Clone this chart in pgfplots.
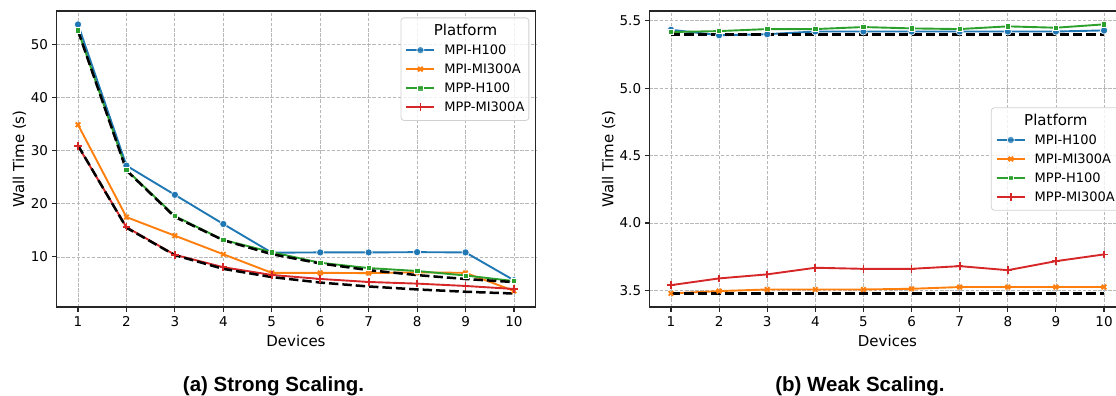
\documentclass[border=0pt]{standalone}
\usepackage{pgfplots}
\pgfplotsset{compat=1.18}
\usepackage{fontspec}
\setmainfont{DejaVu Sans}
\newfontfamily\capfont{Liberation Sans}
\definecolor{c1}{RGB}{31,119,180}
\definecolor{c2}{RGB}{255,127,14}
\definecolor{c3}{RGB}{44,160,44}
\definecolor{c4}{RGB}{214,39,40}
\pgfplotsset{
  myax/.style={
    scale only axis, height=296pt,
    xmin=0.55, xmax=10.45, xtick={1,2,3,4,5,6,7,8,9,10},
    grid=major,
    major grid style={dash pattern=on 3.5pt off 1.6pt, line width=0.8pt, color=black!28},
    axis line style={line width=1.1pt, black!85},
    tick align=outside, tick pos=left, major tick length=4.5pt,
    every tick/.style={black!85, line width=1.1pt},
    /pgf/number format/assume math mode=true,
    tick label style={font=\fontsize{13.5}{16}\selectfont, inner sep=0pt},
    xticklabel style={anchor=north, text height=9.8pt, yshift=-5.2pt},
    yticklabel style={anchor=east, xshift=-3.5pt},
    xlabel={Devices}, ylabel={Wall Time (s)},
    every axis x label/.style={at={(axis description cs:0.5,-0.1318)}, anchor=base, font=\fontsize{15}{18}\selectfont},
    legend cell align=left,
    legend image code/.code={\draw[mark repeat=2,mark phase=2,#1] plot coordinates {(0pt,0pt) (14pt,0pt) (28pt,0pt)};},
    legend style={draw=black!18, line width=0.8pt, rounded corners=3pt, fill=white, fill opacity=0.8, text opacity=1,
      font=\fontsize{13}{15}\selectfont, inner xsep=4.5pt, inner ysep=7pt, row sep=6.5pt, column sep=9pt,
      nodes={inner sep=0pt, text height=11pt, text depth=1.5pt}},
  },
  s1/.style={c1, line width=1.9pt, mark=*, mark size=3.6pt, mark options={draw=white, line width=0.6pt, fill=c1, sharp corners}},
  s2/.style={c2, line width=1.9pt, mark=x, mark size=3.2pt, mark options={line width=1.9pt, sharp corners}},
  s3/.style={c3, line width=1.9pt, mark=square*, mark size=2.7pt, mark options={draw=white, line width=0.6pt, fill=c3, sharp corners}},
  s4/.style={c4, line width=1.9pt, mark=+, mark size=3.8pt, mark options={line width=1.7pt, sharp corners}},
  ideal/.style={black, line width=2.5pt, dash pattern=on 9.4pt off 4pt, forget plot},
}
\begin{document}
\begin{tikzpicture}
% ---------- (a) strong scaling ----------
\begin{axis}[myax, at={(56.2pt,-11pt)}, anchor=north west, width=479.6pt,
  ymin=0.565, ymax=56.335, ytick={10,20,30,40,50},
  every axis y label/.style={at={(axis description cs:-0.0667,0.5)}, rotate=90, anchor=base, font=\fontsize{15}{18}\selectfont},
  legend style={at={(1,1)}, anchor=north east, xshift=-6.5pt, yshift=-6.5pt}]
\addlegendimage{empty legend}
\addlegendentry{\hspace*{-10.5pt}\fontsize{15}{18}\selectfont Platform}
\addplot[s1] coordinates {(1,53.8) (2,27.2) (3,21.7) (4,16.2) (5,10.8) (6,10.85) (7,10.85) (8,10.9) (9,10.85) (10,5.6)};
\addlegendentry{MPI-H100}
\addplot[s2] coordinates {(1,34.9) (2,17.5) (3,14.0) (4,10.5) (5,7.0) (6,7.0) (7,6.95) (8,7.1) (9,7.0) (10,3.6)};
\addlegendentry{MPI-MI300A}
\addplot[s3] coordinates {(1,52.7) (2,26.4) (3,17.7) (4,13.2) (5,10.9) (6,8.9) (7,7.9) (8,7.35) (9,6.5) (10,5.45)};
\addlegendentry{MPP-H100}
\addplot[s4] coordinates {(1,30.9) (2,15.6) (3,10.4) (4,8.06) (5,6.6) (6,5.85) (7,5.28) (8,4.97) (9,4.53) (10,3.96)};
\addlegendentry{MPP-MI300A}
\addplot[ideal] coordinates {(1,52.6) (2,26.3) (3,17.53) (4,13.15) (5,10.52) (6,8.77) (7,7.51) (8,6.575) (9,5.84) (10,5.26)};
\addplot[ideal] coordinates {(1,31.0) (2,15.5) (3,10.33) (4,7.75) (5,6.2) (6,5.17) (7,4.43) (8,3.875) (9,3.44) (10,3.1)};
\end{axis}
% ---------- (b) weak scaling ----------
\begin{axis}[myax, at={(649.3pt,-11pt)}, anchor=north west, width=476.4pt,
  ymin=3.377, ymax=5.572, ytick={3.5,4.0,4.5,5.0,5.5},
  yticklabel style={/pgf/number format/.cd, fixed, fixed zerofill, precision=1},
  every axis y label/.style={at={(axis description cs:-0.0755,0.5)}, rotate=90, anchor=base, font=\fontsize{15}{18}\selectfont},
  legend style={at={(1,0.5)}, anchor=east, xshift=-6pt}]
\addlegendimage{empty legend}
\addlegendentry{\hspace*{-10.5pt}\fontsize{15}{18}\selectfont Platform}
\addplot[s1] coordinates {(1,5.433) (2,5.392) (3,5.40) (4,5.42) (5,5.42) (6,5.42) (7,5.42) (8,5.42) (9,5.42) (10,5.428)};
\addlegendentry{MPI-H100}
\addplot[s2] coordinates {(1,3.478) (2,3.495) (3,3.507) (4,3.507) (5,3.507) (6,3.512) (7,3.525) (8,3.525) (9,3.525) (10,3.525)};
\addlegendentry{MPI-MI300A}
\addplot[s3] coordinates {(1,5.416) (2,5.423) (3,5.438) (4,5.438) (5,5.453) (6,5.443) (7,5.438) (8,5.458) (9,5.448) (10,5.473)};
\addlegendentry{MPP-H100}
\addplot[s4] coordinates {(1,3.539) (2,3.589) (3,3.619) (4,3.668) (5,3.66) (6,3.66) (7,3.68) (8,3.65) (9,3.717) (10,3.767)};
\addlegendentry{MPP-MI300A}
\addplot[ideal] coordinates {(1,5.398) (2,5.398) (3,5.398) (4,5.398) (5,5.398) (6,5.398) (7,5.398) (8,5.398) (9,5.398) (10,5.398)};
\addplot[ideal] coordinates {(1,3.477) (2,3.477) (3,3.477) (4,3.477) (5,3.477) (6,3.477) (7,3.477) (8,3.477) (9,3.477) (10,3.477)};
\end{axis}
\node[font=\capfont\bfseries\fontsize{20.5}{24}\selectfont, anchor=base] at (273.5pt,-391pt) {(a) Strong Scaling.};
\node[font=\capfont\bfseries\fontsize{20.5}{24}\selectfont, anchor=base] at (860pt,-391pt) {(b) Weak Scaling.};
\pgfresetboundingbox
\useasboundingbox (0pt,0pt) rectangle (1116pt,-396pt);
\end{tikzpicture}
\end{document}
